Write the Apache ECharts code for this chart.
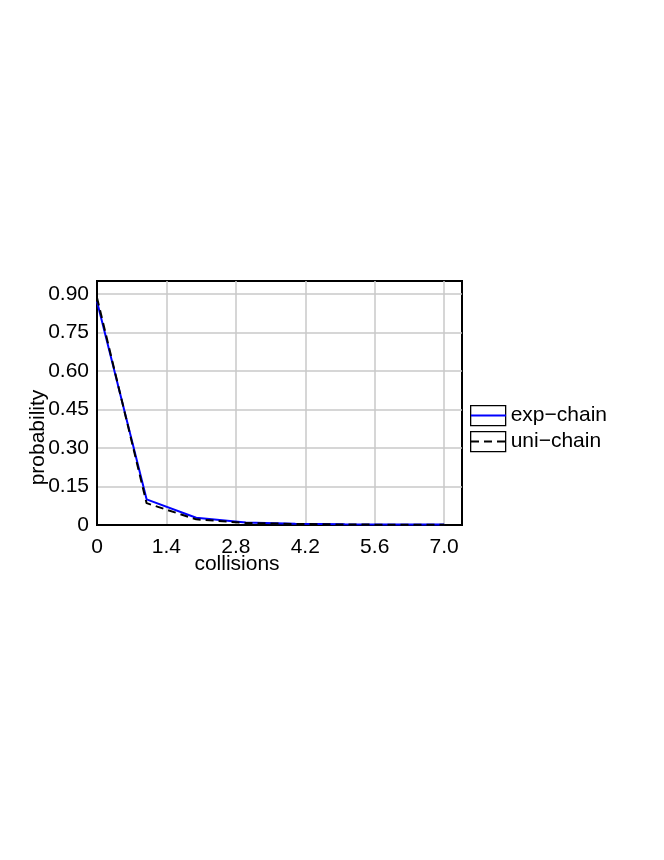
<!DOCTYPE html>
<html>
<head>
<meta charset="utf-8">
<script src="https://cdn.jsdelivr.net/npm/echarts@6/dist/echarts.min.js"></script>
<style>html,body{margin:0;padding:0;background:#fff;}#c{width:664px;height:860px;}</style>
</head>
<body>
<div id="c"></div>
<script>
const collisions = [0, 1, 2, 3, 4, 5, 6, 7];
const expChain = [0.870, 0.100, 0.028, 0.010, 0.005, 0.003, 0.002, 0.002];
const uniChain = [0.885, 0.085, 0.022, 0.008, 0.004, 0.002, 0.001, 0.001];
const seriesNames = ['exp\u2212chain', 'uni\u2212chain'];

const chart = echarts.init(document.getElementById('c'));
const font = 'Liberation Sans, Arial, Helvetica, sans-serif';
const FS = 21;

const legends = [];
seriesNames.forEach((name, i) => {
  const base = {
    orient: 'vertical', left: 470, top: 405 + i * 26, padding: 0,
    itemWidth: 35, itemHeight: 20, selectedMode: false, data: [name]
  };
  legends.push(Object.assign({}, base, {
    icon: 'rect',
    itemStyle: {color: 'transparent', borderColor: '#000', borderWidth: 1.3},
    textStyle: {fontFamily: font, fontSize: FS, color: '#000'}
  }));
  legends.push(Object.assign({}, base, {
    itemStyle: {color: 'transparent', borderWidth: 0},
    textStyle: {fontFamily: font, fontSize: FS, color: 'transparent'}
  }));
});

chart.setOption({
  animation: false,
  backgroundColor: '#fff',
  grid: {left: 97, top: 281, right: 202, bottom: 335, show: true, borderColor: '#000', borderWidth: 2, backgroundColor: 'transparent'},
  legend: legends,
  xAxis: {
    type: 'value', min: 0, max: 7.36, interval: 1.4,
    name: 'collisions', nameLocation: 'middle', nameGap: 29, nameMoveOverlap: false,
    nameTextStyle: {fontFamily: font, fontSize: FS, color: '#000', padding: [0, 85, 0, 0]},
    axisLine: {show: true, lineStyle: {color: '#000', width: 2}},
    axisTick: {show: false},
    axisLabel: {fontFamily: font, fontSize: FS, color: '#000', margin: 12, showMaxLabel: false,
      formatter: v => v === 0 ? '0' : v.toFixed(1)},
    splitLine: {show: true, showMinLine: false, showMaxLine: false, lineStyle: {color: '#c8c8c8', width: 1.5}}
  },
  yAxis: {
    type: 'value', min: 0, max: 0.95, interval: 0.15,
    name: 'probability', nameLocation: 'middle', nameGap: 48, nameRotate: 90, nameMoveOverlap: false,
    nameTextStyle: {fontFamily: font, fontSize: FS, color: '#000', padding: [0, 69, 0, 0]},
    axisLine: {show: true, lineStyle: {color: '#000', width: 2}},
    axisTick: {show: false},
    axisLabel: {fontFamily: font, fontSize: FS, color: '#000', margin: 8, showMaxLabel: false,
      formatter: v => v === 0 ? '0' : v.toFixed(2)},
    splitLine: {show: true, showMinLine: false, showMaxLine: false, lineStyle: {color: '#c8c8c8', width: 1.5}}
  },
  series: [
    {name: seriesNames[0], type: 'line', data: collisions.map((x, i) => [x, expChain[i]]),
      showSymbol: false, symbol: 'none', lineStyle: {color: '#0000ff', width: 2}, itemStyle: {color: '#0000ff'}},
    {name: seriesNames[1], type: 'line', data: collisions.map((x, i) => [x, uniChain[i]]),
      showSymbol: false, symbol: 'none', lineStyle: {color: '#000', width: 2, type: [8, 5]}, itemStyle: {color: '#000'}}
  ]
});
</script>
</body>
</html>
